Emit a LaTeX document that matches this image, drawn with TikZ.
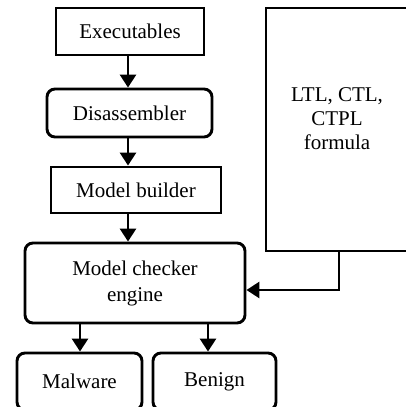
\documentclass[tikz,border=0pt]{standalone}
\usepackage{fontspec}
\setmainfont{Liberation Serif}
\usetikzlibrary{arrows.meta}
\tikzset{
  txt/.style={align=center, inner sep=0pt, font=\fontsize{21}{26}\selectfont},
  box/.style={txt, draw=black, line width=2.9pt},
  rbox/.style={box, rounded corners=8pt},
  flow/.style={line width=2.9pt, -{Triangle[length=13pt,width=16pt]}}
}
\begin{document}
\begin{tikzpicture}[x=1pt,y=-1pt]
  \useasboundingbox (0,0) rectangle (406,407);
  \clip (0,0) rectangle (406,407);
  % processing chain
  \node[box, minimum width=148pt, minimum height=47pt] (exe) at (130,31.5) {Executables};
  \node[rbox, minimum width=165pt, minimum height=48pt] (dis) at (129.5,113) {Disassembler};
  \node[box, minimum width=170pt, minimum height=46pt] (mb) at (136,190) {Model builder};
  \node[rbox, minimum width=220pt, minimum height=80pt] (mc) at (135,283) {Model checker\\engine};
  % specification input
  \node[box, minimum width=142pt, minimum height=243pt] (spec) at (337,129.5) {};
  \node[txt, font=\fontsize{21}{24}\selectfont] (spectext) at ([yshift=11pt]spec.center) {LTL, CTL,\\CTPL\\formula};
  % verdicts
  \node[rbox, minimum width=125pt, minimum height=57pt] (mal) at (79.5,381.5) {Malware};
  \node[rbox, minimum width=123pt, minimum height=57pt] (ben) at (214.5,381.5) {Benign};
  % connectors
  \coordinate (col) at (128,0);
  \draw[flow] (exe.south -| col) -- (dis.north -| col);
  \draw[flow] (dis.south -| col) -- (mb.north -| col);
  \draw[flow] (mb.south -| col) -- (mc.north -| col);
  \draw[flow] (spec.south -| 339,0) |- (mc.east |- 0,290);
  \draw[flow] (mc.south -| 80,0) -- (mal.north -| 80,0);
  \draw[flow] (mc.south -| 208,0) -- (ben.north -| 208,0);
\end{tikzpicture}
\end{document}
